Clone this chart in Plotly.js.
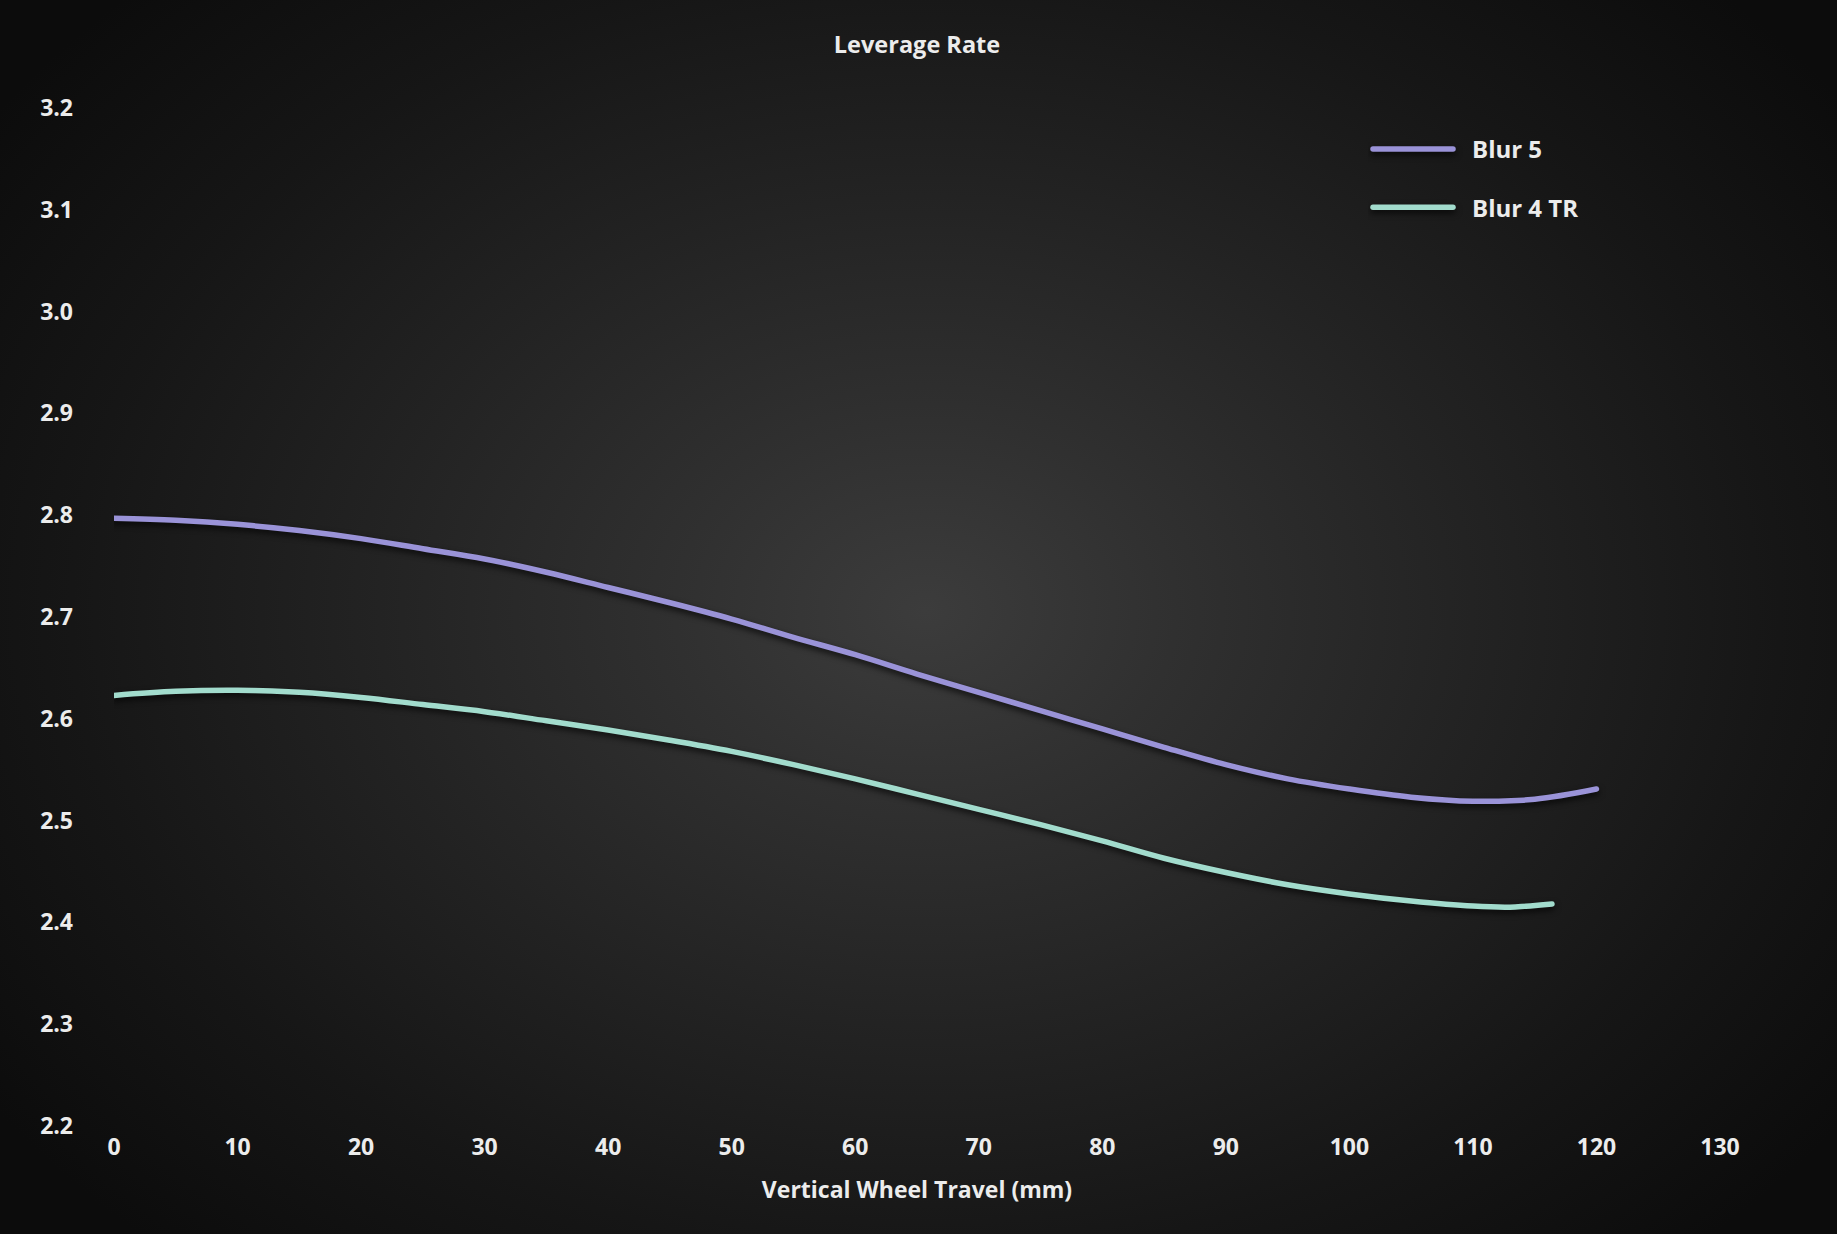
<!DOCTYPE html>
<html>
<head>
<meta charset="utf-8">
<script src="https://cdn.plot.ly/plotly-3.0.1.min.js"></script>
<style>
  html, body { margin: 0; padding: 0; width: 1837px; height: 1234px; overflow: hidden; }
  body {
    background: radial-gradient(ellipse 62% 70% at 50.4% 49.5%, #3c3c3c 0%, #303030 22%, #232323 48%, #161616 75%, #0c0c0c 100%);
    background-color: #0d0d0d;
  }
  #chart { width: 1837px; height: 1234px; }
  .scatterlayer .js-line, .legend .js-line {
    stroke-linecap: round;
    filter: drop-shadow(0px 3px 3px rgba(0,0,0,0.75));
  }
  .legend .js-line { stroke-dasharray: 80 3000 !important; }
</style>
</head>
<body>
<div id="chart"></div>
<script>
// Vertical wheel travel (mm)
const travelBlur5 = [0, 5, 10, 15, 20, 25, 30, 35, 40, 45, 50, 55, 60, 65, 70, 75, 80, 85, 90, 95, 100, 105, 110, 115, 120];
const rateBlur5   = [2.797, 2.795, 2.791, 2.785, 2.777, 2.767, 2.757, 2.744, 2.729, 2.714, 2.698, 2.680, 2.663, 2.644, 2.626, 2.608, 2.590, 2.572, 2.555, 2.541, 2.531, 2.523, 2.519, 2.521, 2.531];

const travelBlur4TR = [0, 5, 10, 15, 20, 25, 30, 35, 40, 45, 50, 55, 60, 65, 70, 75, 80, 85, 90, 95, 100, 105, 110, 113, 116.4];
const rateBlur4TR   = [2.623, 2.627, 2.628, 2.626, 2.621, 2.614, 2.607, 2.598, 2.589, 2.579, 2.568, 2.555, 2.541, 2.526, 2.511, 2.496, 2.480, 2.463, 2.449, 2.437, 2.428, 2.421, 2.416, 2.415, 2.418];

const xTicks = [0, 10, 20, 30, 40, 50, 60, 70, 80, 90, 100, 110, 120, 130];
const yTicks = [2.2, 2.3, 2.4, 2.5, 2.6, 2.7, 2.8, 2.9, 3.0, 3.1, 3.2];

const seriesNames = ['Blur 5', 'Blur 4 TR'];
const seriesColors = ['#9a93d8', '#a2dccd'];

const FONT = '"Open Sans", Lato, "DejaVu Sans", sans-serif';
const TEXT = '#ececec';

const traces = [
  {
    x: travelBlur5, y: rateBlur5, name: seriesNames[0], legendgroup: 'a',
    type: 'scatter', mode: 'lines',
    line: { color: seriesColors[0], width: 5.5, shape: 'spline', smoothing: 1 },
    hoverinfo: 'x+y+name'
  },
  {
    x: travelBlur4TR, y: rateBlur4TR, name: seriesNames[1], legendgroup: 'b',
    type: 'scatter', mode: 'lines',
    line: { color: seriesColors[1], width: 5.5, shape: 'spline', smoothing: 1 },
    hoverinfo: 'x+y+name'
  }
];

const layout = {
  width: 1837, height: 1234,
  paper_bgcolor: 'rgba(0,0,0,0)',
  plot_bgcolor: 'rgba(0,0,0,0)',
  margin: { l: 114, r: 117, t: 108, b: 108, pad: 0 },
  font: { family: FONT, color: TEXT, size: 23, weight: 700 },
  title: {
    text: 'Leverage Rate',
    font: { family: FONT, size: 23.5, color: TEXT, weight: 700 },
    x: 0.5, xref: 'paper', xanchor: 'center',
    y: 1 - 45 / 1234, yref: 'container', yanchor: 'middle'
  },
  xaxis: {
    range: [0, 130],
    tickvals: xTicks,
    ticktext: xTicks.map(String),
    showgrid: false, zeroline: false, showline: false, ticks: '',
    tickfont: { family: FONT, size: 23, color: TEXT, weight: 700 },
    ticklabelstandoff: 5,
    title: {
      text: 'Vertical Wheel Travel (mm)',
      font: { family: FONT, size: 23, color: TEXT, weight: 700 },
      standoff: 20
    },
    fixedrange: true
  },
  yaxis: {
    range: [2.2, 3.2],
    tickvals: yTicks,
    ticktext: yTicks.map(v => v.toFixed(1)),
    showgrid: false, zeroline: false, showline: false, ticks: '',
    tickfont: { family: FONT, size: 23, color: TEXT, weight: 700 },
    ticklabelstandoff: 40,
    fixedrange: true
  },
  showlegend: true,
  legend: {
    x: (1368 - 114) / 1606, xanchor: 'left',
    y: 1 + (108 - 127) / 1018, yanchor: 'top',
    bgcolor: 'rgba(0,0,0,0)',
    borderwidth: 0,
    font: { family: FONT, size: 24, color: TEXT, weight: 700 },
    itemwidth: 94,
    tracegroupgap: 24,
    traceorder: 'grouped'
  }
};

Plotly.newPlot('chart', traces, layout, { displayModeBar: false });
</script>
</body>
</html>
